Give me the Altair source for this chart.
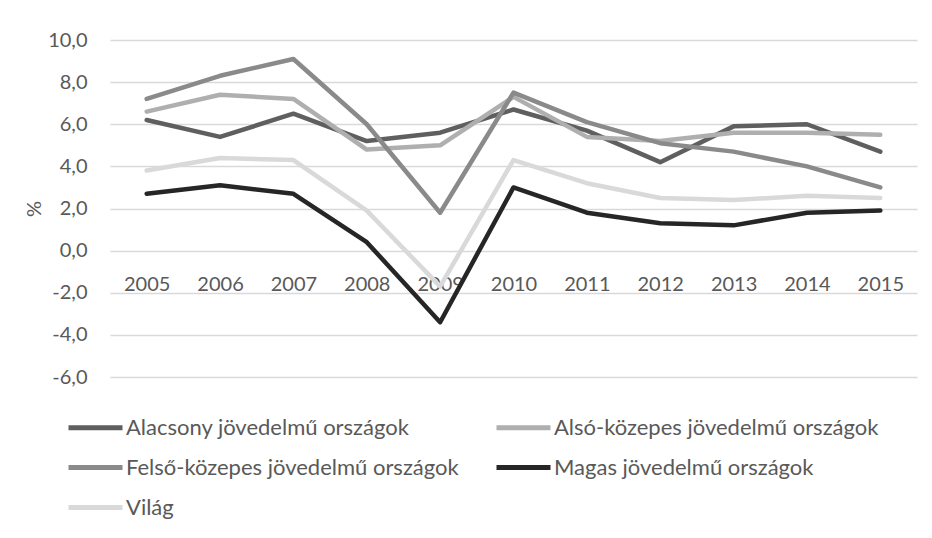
import altair as alt
import pandas as pd

years = [str(y) for y in range(2005, 2016)]
series = [
    "Alacsony jövedelmű országok",
    "Alsó-közepes jövedelmű országok",
    "Felső-közepes jövedelmű országok",
    "Magas jövedelmű országok",
    "Világ",
]
alacsony = [6.2, 5.4, 6.5, 5.2, 5.6, 6.7, 5.7, 4.2, 5.9, 6.0, 4.7]
also_kozepes = [6.6, 7.4, 7.2, 4.8, 5.0, 7.3, 5.4, 5.2, 5.6, 5.6, 5.5]
felso_kozepes = [7.2, 8.3, 9.1, 6.0, 1.8, 7.5, 6.1, 5.1, 4.7, 4.0, 3.0]
magas = [2.7, 3.1, 2.7, 0.4, -3.4, 3.0, 1.8, 1.3, 1.2, 1.8, 1.9]
vilag = [3.8, 4.4, 4.3, 1.9, -1.7, 4.3, 3.2, 2.5, 2.4, 2.6, 2.5]
colors = ["#5f5f5f", "#afafaf", "#8a8a8a", "#262626", "#d9d9d9"]
y_ticks = [-6, -4, -2, 0, 2, 4, 6, 8, 10]

rows = []
for name, vals in zip(series, [alacsony, also_kozepes, felso_kozepes, magas, vilag]):
    for yr, v in zip(years, vals):
        rows.append({"Év": yr, "Sorozat": name, "Érték": v})
df = pd.DataFrame(rows)

FONT = "Lato"
TXT = "#595959"

chart = (
    alt.Chart(df)
    .mark_line(strokeWidth=4.5, strokeJoin="round", strokeCap="round")
    .encode(
        x=alt.X(
            "Év:O",
            sort=years,
            scale=alt.Scale(type="point", padding=0.5),
            axis=alt.Axis(
                title=None,
                labelAngle=0,
                domain=False,
                ticks=False,
                grid=False,
                offset=-126,
                labelPadding=23,
                labelFontSize=20,
                labelColor=TXT,
                labelFont=FONT,
            ),
        ),
        y=alt.Y(
            "Érték:Q",
            scale=alt.Scale(domain=[-6, 10], nice=False, zero=False),
            axis=alt.Axis(
                title="%",
                titleFontSize=20,
                titleFontWeight="normal",
                titleColor=TXT,
                titleFont=FONT,
                titlePadding=3,
                values=y_ticks,
                labelExpr="datum.value + ',0'",
                labelFontSize=20,
                labelColor=TXT,
                labelFont=FONT,
                labelPadding=23,
                domain=False,
                ticks=False,
                grid=True,
                gridColor="#d9d9d9",
                gridWidth=1.4,
            ),
        ),
        color=alt.Color(
            "Sorozat:N",
            sort=series,
            scale=alt.Scale(domain=series, range=colors),
            legend=alt.Legend(
                title=None,
                orient="none",
                legendX=-26,
                legendY=376,
                direction="horizontal",
                columns=2,
                columnPadding=27,
                rowPadding=17,
                padding=0,
                symbolType="M-3,0H3",
                symbolSize=324,
                symbolStrokeWidth=5,
                labelFontSize=22,
                labelFont=FONT,
                labelColor=TXT,
                labelOffset=19,
                labelLimit=500,
            ),
        ),
    )
    .properties(
        width=807,
        height=337,
        autosize="none",
        padding={"left": 102, "top": 32, "right": 5, "bottom": 150},
    )
    .configure_view(stroke=None)
)

chart.save("out.html", embed_options={"renderer": "svg", "actions": False})
